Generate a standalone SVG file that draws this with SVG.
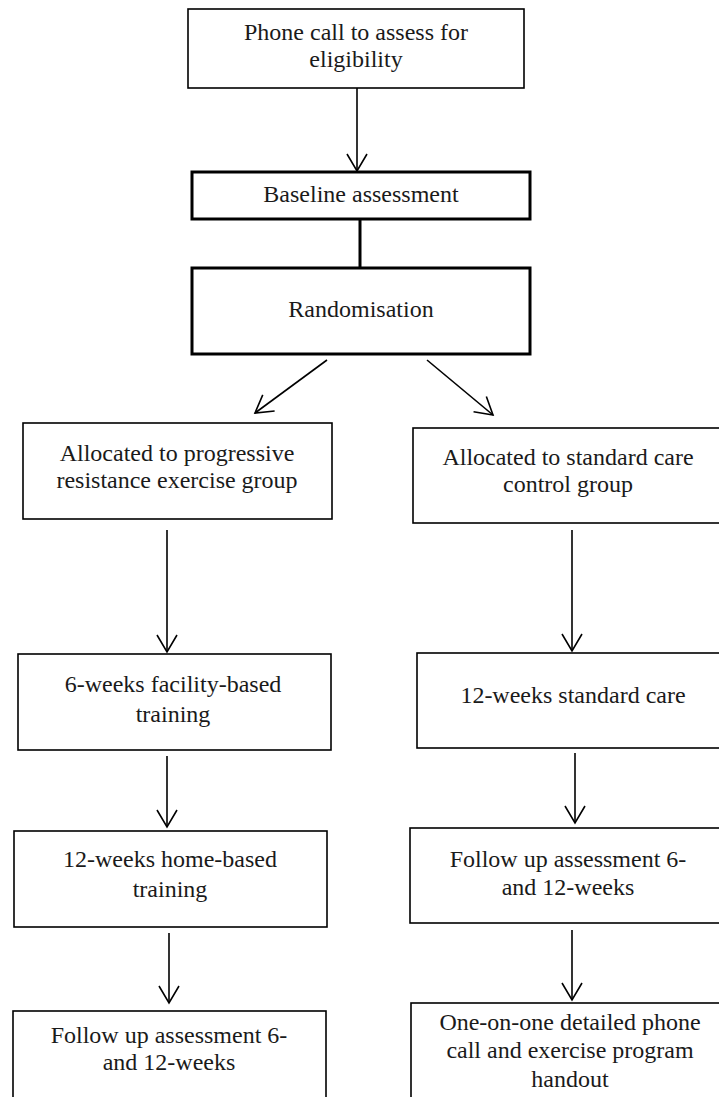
<svg xmlns="http://www.w3.org/2000/svg" width="719" height="1097" viewBox="0 0 719 1097">
<style>
  .box { fill: #ffffff; stroke: #000000; stroke-width: 1.6; }
  .thick { stroke-width: 3; }
  .lbl { font-family: "Liberation Serif", "Times New Roman", serif; font-size: 24px; fill: #1a1a1a; text-anchor: middle; }
  .conn { stroke: #000000; stroke-width: 1.6; fill: none; }
</style>
<defs>
  <marker id="vee" markerUnits="userSpaceOnUse" markerWidth="24" markerHeight="24" viewBox="-20 -12 24 24" refX="0" refY="0" orient="auto">
    <path d="M-17,-10 L0,0 L-17,10" fill="none" stroke="#000" stroke-width="1.6"/>
  </marker>
</defs>
<rect width="719" height="1097" fill="#ffffff"/>

<g id="connectors">
  <line class="conn" x1="357" y1="88" x2="357" y2="171" marker-end="url(#vee)"/>
  <line class="conn" x1="360" y1="219" x2="360" y2="268" style="stroke-width:3"/>
  <line class="conn" x1="327" y1="360" x2="255" y2="413" marker-end="url(#vee)"/>
  <line class="conn" x1="427" y1="360" x2="493" y2="415" marker-end="url(#vee)"/>
  <line class="conn" x1="167" y1="530" x2="167" y2="652" marker-end="url(#vee)"/>
  <line class="conn" x1="167" y1="756" x2="167" y2="827" marker-end="url(#vee)"/>
  <line class="conn" x1="169" y1="933" x2="169" y2="1003" marker-end="url(#vee)"/>
  <line class="conn" x1="572" y1="530" x2="572" y2="651" marker-end="url(#vee)"/>
  <line class="conn" x1="575" y1="753" x2="575" y2="823" marker-end="url(#vee)"/>
  <line class="conn" x1="572" y1="930" x2="572" y2="1000" marker-end="url(#vee)"/>
</g>

<g id="phone-call">
  <rect class="box" x="188" y="9" width="336" height="79"/>
  <text class="lbl" x="356" y="40">Phone call to assess for</text>
  <text class="lbl" x="356" y="67">eligibility</text>
</g>

<g id="baseline">
  <rect class="box thick" x="192" y="172" width="338" height="47"/>
  <text class="lbl" x="361" y="202">Baseline assessment</text>
</g>

<g id="randomisation">
  <rect class="box thick" x="192" y="268" width="338" height="86"/>
  <text class="lbl" x="361" y="317">Randomisation</text>
</g>

<g id="alloc-exercise">
  <rect class="box" x="23" y="423" width="309" height="96"/>
  <text class="lbl" x="177" y="461">Allocated to progressive</text>
  <text class="lbl" x="177" y="488">resistance exercise group</text>
</g>

<g id="alloc-control">
  <rect class="box" x="413" y="428" width="320" height="95"/>
  <text class="lbl" x="568" y="465">Allocated to standard care</text>
  <text class="lbl" x="568" y="492">control group</text>
</g>

<g id="facility-training">
  <rect class="box" x="18" y="654" width="313" height="96"/>
  <text class="lbl" x="173" y="692">6-weeks facility-based</text>
  <text class="lbl" x="173" y="722">training</text>
</g>

<g id="home-training">
  <rect class="box" x="14" y="831" width="313" height="96"/>
  <text class="lbl" x="170" y="867">12-weeks home-based</text>
  <text class="lbl" x="170" y="897">training</text>
</g>

<g id="followup-exercise">
  <rect class="box" x="13" y="1011" width="313" height="100"/>
  <text class="lbl" x="169" y="1043">Follow up assessment 6-</text>
  <text class="lbl" x="169" y="1070">and 12-weeks</text>
</g>

<g id="standard-care">
  <rect class="box" x="417" y="653" width="320" height="95"/>
  <text class="lbl" x="573" y="703">12-weeks standard care</text>
</g>

<g id="followup-control">
  <rect class="box" x="410" y="828" width="330" height="95"/>
  <text class="lbl" x="568" y="867">Follow up assessment 6-</text>
  <text class="lbl" x="568" y="895">and 12-weeks</text>
</g>

<g id="phone-handout">
  <rect class="box" x="411" y="1003" width="330" height="110"/>
  <text class="lbl" x="570" y="1030">One-on-one detailed phone</text>
  <text class="lbl" x="570" y="1058">call and exercise program</text>
  <text class="lbl" x="570" y="1087">handout</text>
</g>
</svg>
